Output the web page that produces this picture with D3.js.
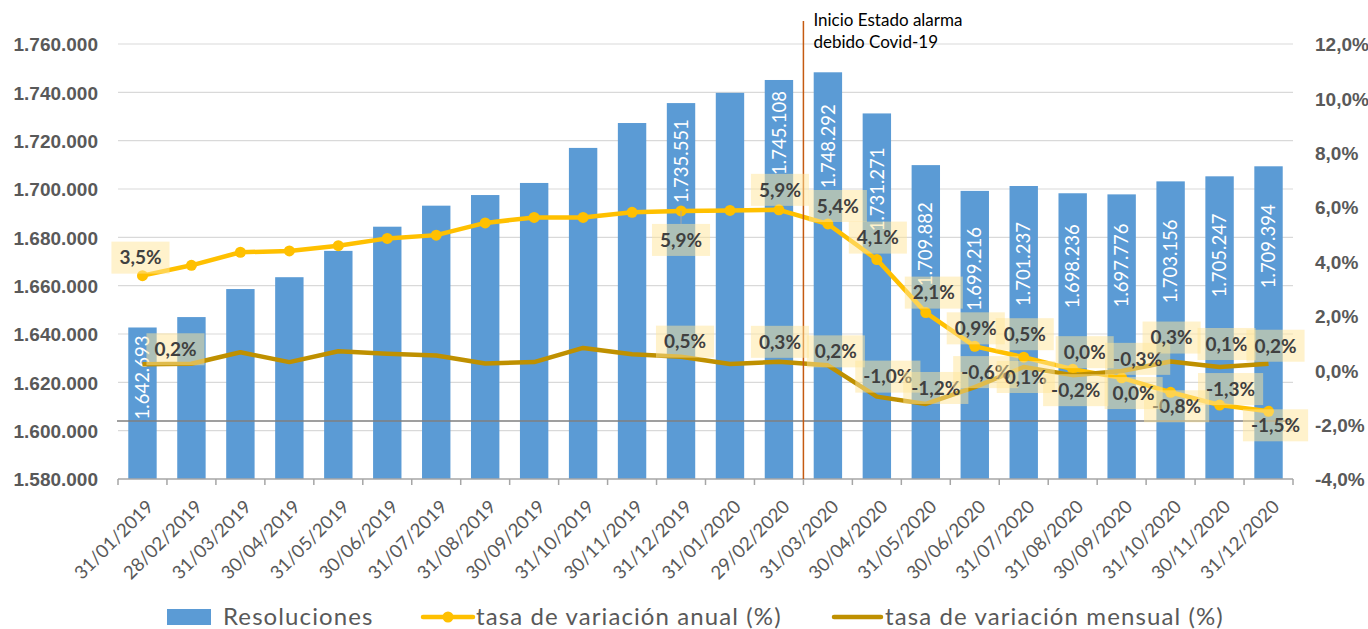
<!DOCTYPE html>
<html lang="es">
<head>
    <meta charset="UTF-8">
    <title>Resoluciones y tasas de variación</title>
    <style>
        body { margin: 0; background: #fff; }
        svg { display: block; font-family: "Lato", "Open Sans", sans-serif; }
        .grid line { stroke: #d9d9d9; stroke-width: 1.2px; }
        .axis text { fill: #595959; font-weight: bold; font-size: 19px; }
        .xlab { fill: #595959; font-size: 18.5px; }
        .barlab { fill: #fff; font-size: 18.5px; }
        .ptlab { fill: #404040; font-weight: bold; font-size: 19px; }
        .legend text { fill: #595959; font-size: 24px; letter-spacing: 1.1px; }
    </style>
</head>
<body>
<script src="https://d3js.org/d3.v7.min.js"></script>
<script>

// data
var fechas = ["31/01/2019","28/02/2019","31/03/2019","30/04/2019","31/05/2019","30/06/2019",
  "31/07/2019","31/08/2019","30/09/2019","31/10/2019","30/11/2019","31/12/2019",
  "31/01/2020","29/02/2020","31/03/2020","30/04/2020","31/05/2020","30/06/2020",
  "31/07/2020","31/08/2020","30/09/2020","31/10/2020","30/11/2020","31/12/2020"];

var resoluciones = [1642693, 1647000, 1658600, 1663500, 1674400, 1684400,
  1693100, 1697500, 1702500, 1717000, 1727300, 1735551,
  1739800, 1745108, 1748292, 1731271, 1709882, 1699216,
  1701237, 1698236, 1697776, 1703156, 1705247, 1709394];

var tasaAnual = [3.48, 3.86, 4.34, 4.39, 4.58, 4.85, 4.97, 5.42, 5.62, 5.62, 5.81, 5.86,
  5.88, 5.90, 5.38, 4.07, 2.12, 0.88, 0.48, 0.04, -0.28, -0.81, -1.28, -1.51];

var tasaMensual = [0.22, 0.24, 0.66, 0.30, 0.70, 0.61, 0.54, 0.25, 0.30, 0.82, 0.59, 0.50,
  0.23, 0.31, 0.18, -0.97, -1.24, -0.62, 0.12, -0.18, -0.03, 0.32, 0.12, 0.24];

var ticksIzq = [1580000, 1600000, 1620000, 1640000, 1660000, 1680000, 1700000, 1720000, 1740000, 1760000];
var ticksDer = [-4, -2, 0, 2, 4, 6, 8, 10, 12];

// points that carry a data label
var conEtiqueta = [0, 11, 13, 14, 15, 16, 17, 18, 19, 20, 21, 22, 23];

// label placement (px, relative to the point / bar top), as dragged in the original
var offBarra = [50, 58, 53, 74, 76, 79, 78, 78, 73, 71, 80, 79, 80];
var offAnual = [[-2,-18],[0,29],[1,-20],[10,-18],[1,-22],[8,-20],[1,-18],[1,-23],[12,-17],[16,-19],[6,14],[11,-16],[7,14]];
var offMensual = [[33,-15],[4,-15],[1,-20],[8,-14],[11,-20],[10,-16],[11,-15],[2,10],[3,15],[12,22],[1,-24],[7,-23],[7,-18]];

var lineaRef = 1604000;
var inicioAlarma = "31/03/2020";

var es = d3.formatLocale({ decimal: ",", thousands: ".", grouping: [3], currency: ["", " €"], minus: "-" });
var fmtMiles = es.format(",d");
var fmtPct = function (v) { return es.format(".1f")(v) + "%"; };

var width = 1368, height = 629;
var plotLeft = 118, plotRight = 1293, plotTop = 44, plotBottom = 479;

var svg = d3.select("body").append("svg")
  .attr("width", width)
  .attr("height", height);

var x = d3.scaleBand().domain(fechas).range([plotLeft, plotRight]).paddingInner(0.42).paddingOuter(0.21);
var yL = d3.scaleLinear().domain([1580000, 1760000]).range([plotBottom, plotTop]);
var yR = d3.scaleLinear().domain([-4, 12]).range([plotBottom, plotTop]);
var cx = function (d) { return x(d) + x.bandwidth() / 2; };

// gridlines
svg.append("g").attr("class", "grid")
  .selectAll("line").data(ticksIzq.slice(1)).enter().append("line")
  .attr("x1", plotLeft).attr("x2", plotRight)
  .attr("y1", function (d) { return yL(d); })
  .attr("y2", function (d) { return yL(d); });

// axes
var axL = svg.append("g").attr("class", "axis")
  .attr("transform", "translate(" + plotLeft + ",0)")
  .call(d3.axisLeft(yL).tickValues(ticksIzq).tickFormat(fmtMiles).tickSize(0).tickPadding(20));
axL.select(".domain").remove();
axL.selectAll("text").attr("dy", "0.36em");

var axR = svg.append("g").attr("class", "axis")
  .attr("transform", "translate(" + plotRight + ",0)")
  .call(d3.axisRight(yR).tickValues(ticksDer).tickFormat(fmtPct).tickSize(0).tickPadding(22));
axR.select(".domain").remove();
axR.selectAll("text").attr("dy", "0.36em");

// bars
svg.append("g").selectAll("rect").data(fechas).enter().append("rect")
  .attr("x", function (d) { return x(d); })
  .attr("width", x.bandwidth())
  .attr("y", function (d, i) { return yL(resoluciones[i]); })
  .attr("height", function (d, i) { return plotBottom - yL(resoluciones[i]); })
  .attr("fill", "#5b9bd5");

// dark horizontal reference line
svg.append("line")
  .attr("x1", plotLeft - 1).attr("x2", plotRight)
  .attr("y1", yL(lineaRef)).attr("y2", yL(lineaRef))
  .attr("stroke", "#7f7f7f").attr("stroke-width", 1.5);

// category axis line + ticks between categories
svg.append("line")
  .attr("x1", plotLeft).attr("x2", plotRight)
  .attr("y1", plotBottom).attr("y2", plotBottom)
  .attr("stroke", "#a6a6a6").attr("stroke-width", 1.5);
var cortes = fechas.map(function (d) { return x(d) - (x.step() - x.bandwidth()) / 2; }).concat([plotRight]);
svg.append("g").selectAll("line").data(cortes).enter().append("line")
  .attr("x1", function (d) { return d; }).attr("x2", function (d) { return d; })
  .attr("y1", plotBottom).attr("y2", plotBottom + 6)
  .attr("stroke", "#a6a6a6").attr("stroke-width", 1.5);

svg.append("g").selectAll("text").data(fechas).enter().append("text")
  .attr("class", "xlab")
  .attr("text-anchor", "end")
  .attr("transform", function (d) { return "translate(" + (cx(d) + 12) + "," + (plotBottom + 29) + ") rotate(-45)"; })
  .text(function (d) { return d; });

// bar value labels
svg.append("g").selectAll("text").data(conEtiqueta).enter().append("text")
  .attr("class", "barlab")
  .attr("text-anchor", "middle")
  .attr("dy", "0.36em")
  .attr("transform", function (k, j) {
    return "translate(" + cx(fechas[k]) + "," + (yL(resoluciones[k]) + offBarra[j]) + ") rotate(-90)";
  })
  .text(function (k) { return fmtMiles(resoluciones[k]); });

// lines
var linea = d3.line()
  .x(function (d, i) { return cx(fechas[i]); })
  .y(function (d) { return yR(d); });

svg.append("path").datum(tasaAnual)
  .attr("d", linea)
  .attr("fill", "none").attr("stroke", "#ffc000").attr("stroke-width", 4.5)
  .attr("stroke-linejoin", "round");

svg.append("g").selectAll("circle").data(tasaAnual).enter().append("circle")
  .attr("cx", function (d, i) { return cx(fechas[i]); })
  .attr("cy", function (d) { return yR(d); })
  .attr("r", 5.5)
  .attr("fill", "#ffc000");

svg.append("path").datum(tasaMensual)
  .attr("d", linea)
  .attr("fill", "none").attr("stroke", "#bf9000").attr("stroke-width", 4.5)
  .attr("stroke-linejoin", "round");

// state of alarm marker
var xa = x(inicioAlarma) - (x.step() - x.bandwidth()) / 2;
svg.append("line")
  .attr("x1", xa).attr("x2", xa)
  .attr("y1", 21).attr("y2", plotBottom)
  .attr("stroke", "#c55a11").attr("stroke-width", 1.5);
svg.append("text")
  .attr("x", xa + 10).attr("y", 26)
  .attr("fill", "#000").attr("font-size", "17px")
  .text("Inicio Estado alarma");
svg.append("text")
  .attr("x", xa + 10).attr("y", 48)
  .attr("fill", "#000").attr("font-size", "17px")
  .text("debido Covid-19");

// leader line for the 31/12/2019 annual label
var k11 = conEtiqueta[1];
svg.append("line")
  .attr("x1", cx(fechas[k11])).attr("x2", cx(fechas[k11]))
  .attr("y1", yR(tasaAnual[k11])).attr("y2", yR(tasaAnual[k11]) + offAnual[1][1] - 16)
  .attr("stroke", "#a6a6a6").attr("stroke-width", 1);

// percentage labels with translucent boxes
function etiquetas(serie, offs) {
  var g = svg.append("g");
  conEtiqueta.forEach(function (k, j) {
    var px = cx(fechas[k]) + offs[j][0];
    var py = yR(serie[k]) + offs[j][1];
    var box = g.append("rect");
    var t = g.append("text")
      .attr("class", "ptlab")
      .attr("text-anchor", "middle")
      .attr("x", px).attr("y", py)
      .attr("dy", "0.36em")
      .text(fmtPct(serie[k]));
    var w = t.node().getComputedTextLength() + 16;
    box.attr("x", px - w / 2).attr("y", py - 16)
      .attr("width", w).attr("height", 32)
      .attr("fill", "#ffe699").attr("fill-opacity", 0.5);
  });
}
etiquetas(tasaAnual, offAnual);
etiquetas(tasaMensual, offMensual);

// legend
var lg = svg.append("g").attr("class", "legend");
lg.append("rect").attr("x", 167).attr("y", 609).attr("width", 44).attr("height", 16).attr("fill", "#5b9bd5");
lg.append("text").attr("x", 223).attr("y", 625).text("Resoluciones");
lg.append("line").attr("x1", 423).attr("x2", 473).attr("y1", 617).attr("y2", 617)
  .attr("stroke", "#ffc000").attr("stroke-width", 4.5).attr("stroke-linecap", "round");
lg.append("circle").attr("cx", 448).attr("cy", 617).attr("r", 5.5).attr("fill", "#ffc000");
lg.append("text").attr("x", 476).attr("y", 625).text("tasa de variación anual (%)");
lg.append("line").attr("x1", 834).attr("x2", 881).attr("y1", 617).attr("y2", 617)
  .attr("stroke", "#bf9000").attr("stroke-width", 4.5).attr("stroke-linecap", "round");
lg.append("text").attr("x", 885).attr("y", 625).text("tasa de variación mensual (%)");

</script>
</body>
</html>
